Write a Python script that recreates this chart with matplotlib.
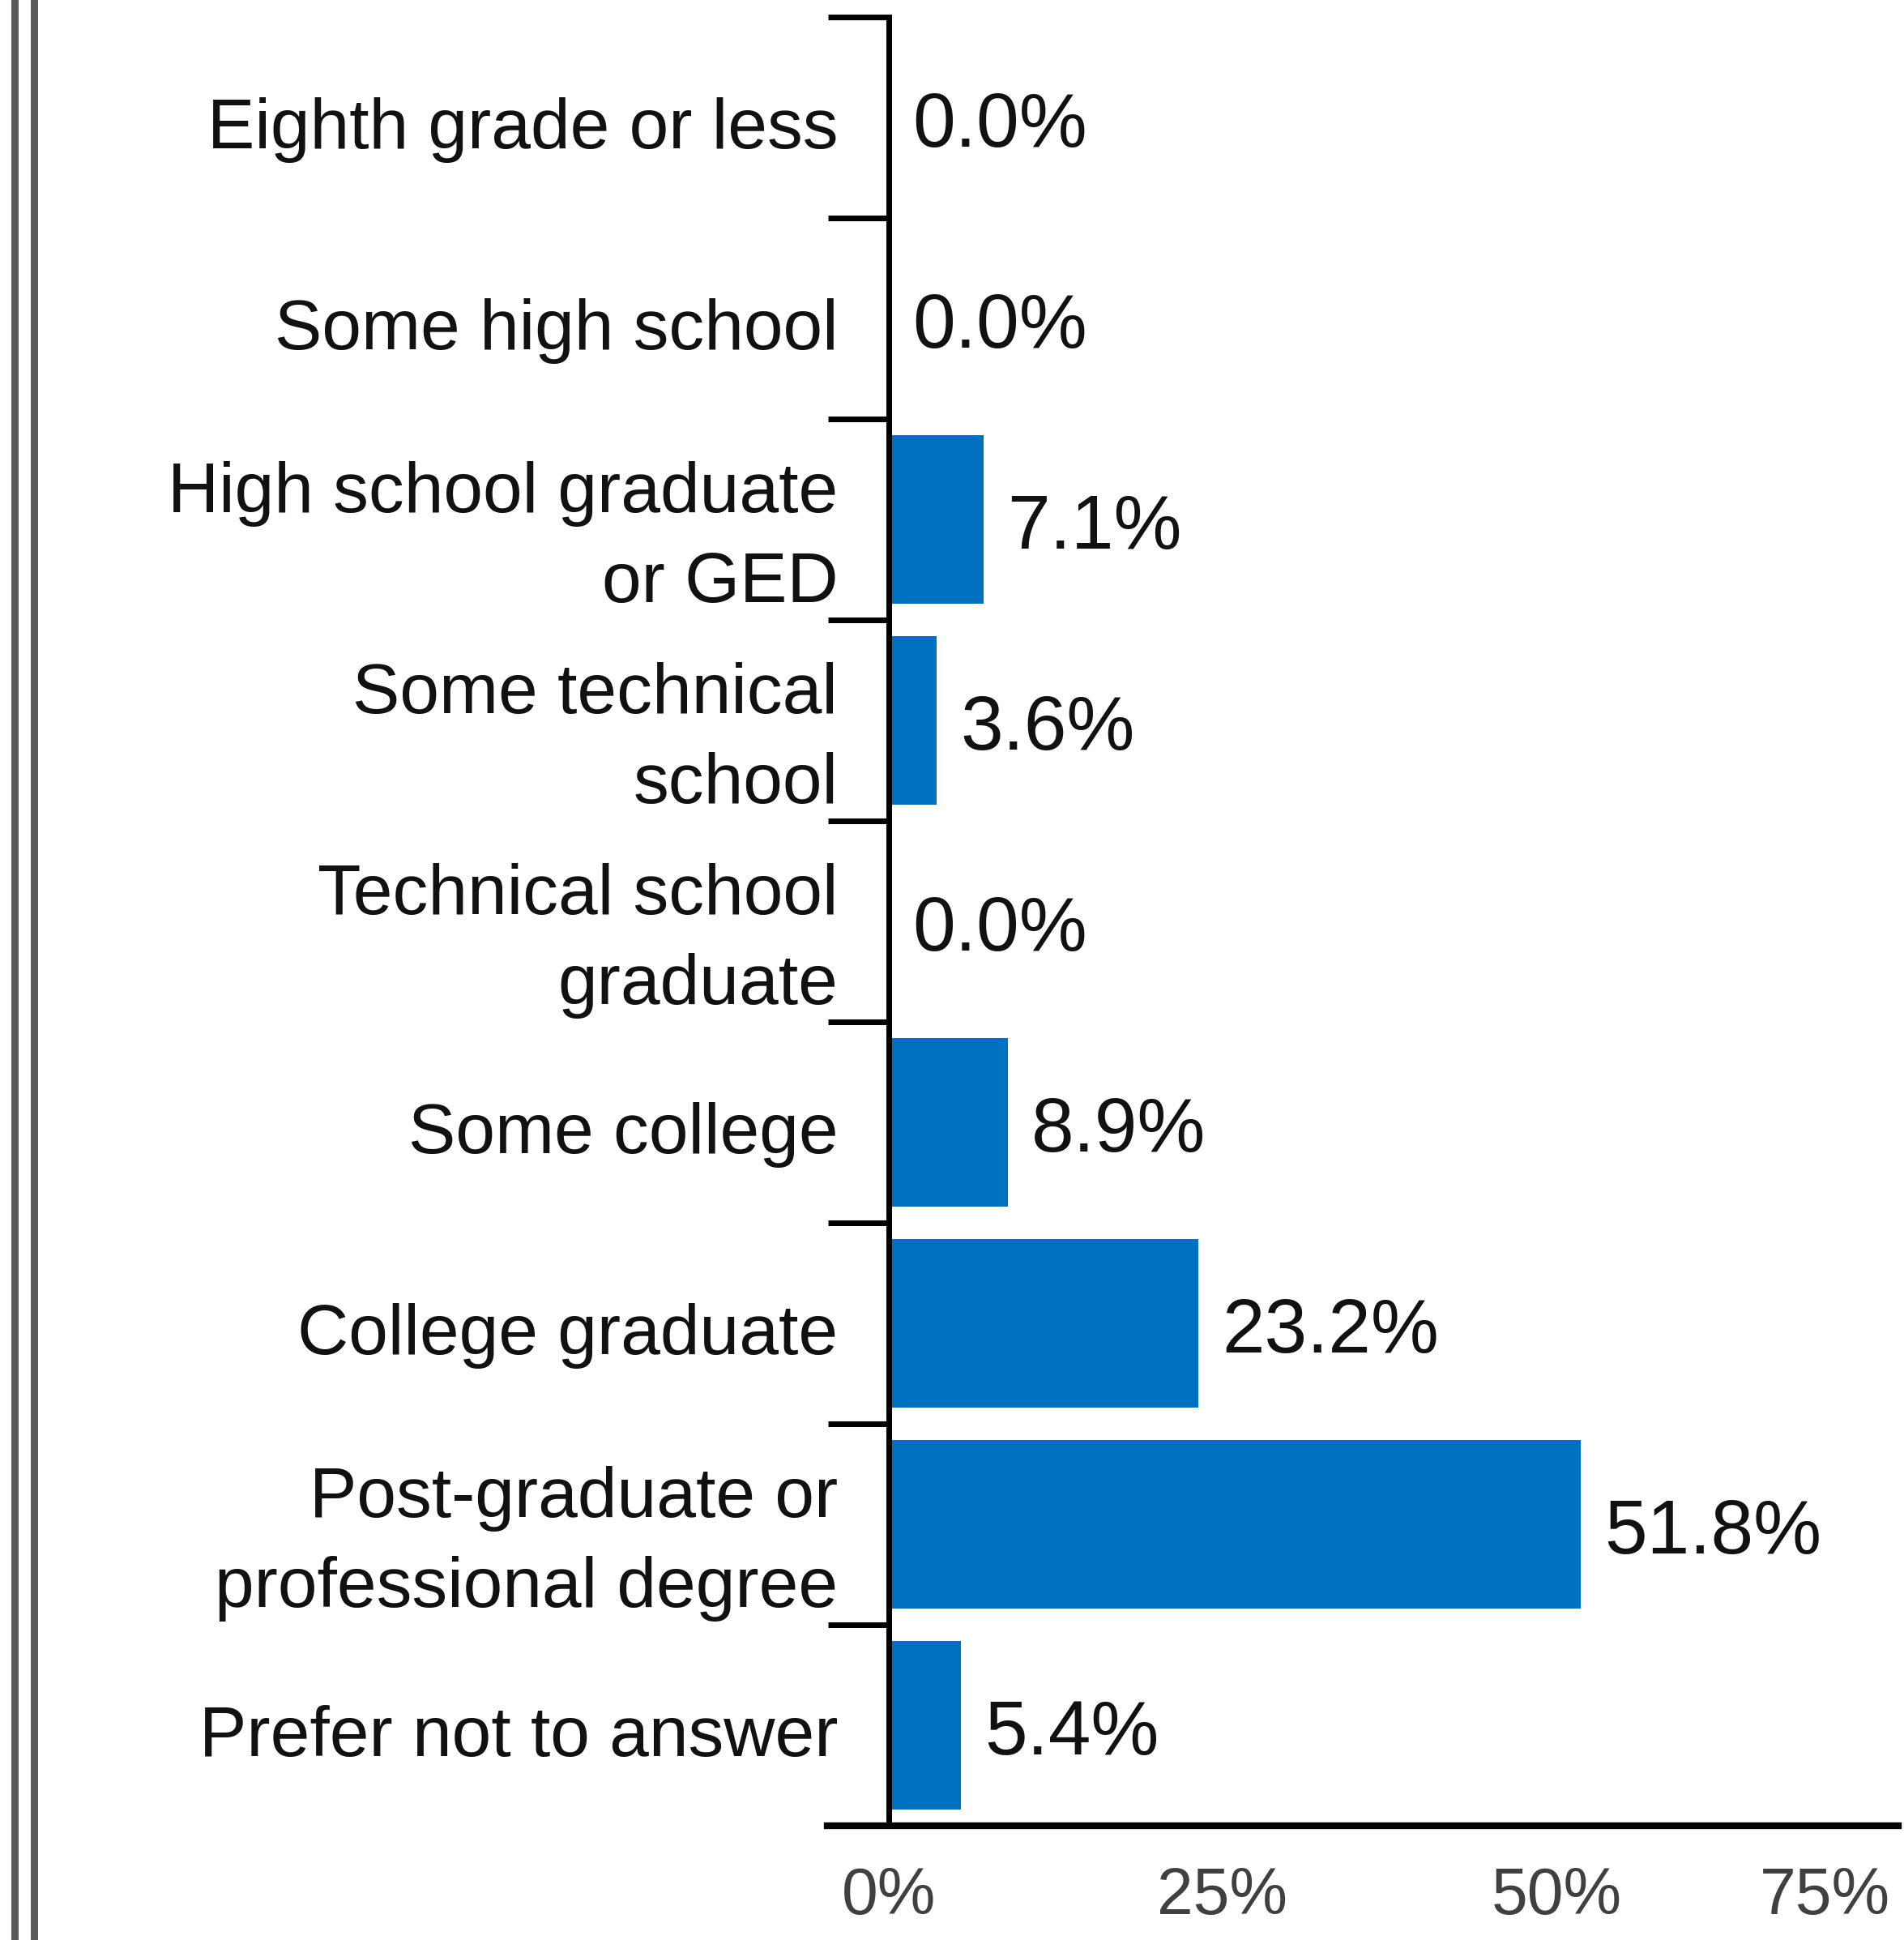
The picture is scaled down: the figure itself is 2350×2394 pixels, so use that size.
import numpy as np
import matplotlib
matplotlib.use("Agg")
import matplotlib.pyplot as plt
from matplotlib.lines import Line2D
from matplotlib.transforms import ScaledTranslation

plt.rcParams['font.family'] = ['Liberation Sans', 'DejaVu Sans']

# education level breakdown (percent of respondents)
categories = [
    "Eighth grade or less",
    "Some high school",
    "High school graduate\nor GED",
    "Some technical\nschool",
    "Technical school\ngraduate",
    "Some college",
    "College graduate",
    "Post-graduate or\nprofessional degree",
    "Prefer not to answer",
]
values = [0.0, 0.0, 7.1, 3.6, 0.0, 8.9, 23.2, 51.8, 5.4]
xticks = [0, 25, 50, 75]
xtick_labels = ["0%", "25%", "50%", "75%"]

W, H = 2350, 2394
fig = plt.figure(figsize=(W / 100, H / 100), dpi=100)

# axes box: x from -4.6 to 75.6 so the bottom line runs a bit left of zero
left, right = 1021, 2343
top, bottom = 21, 2253
ax = fig.add_axes([left / W, 1 - bottom / H, (right - left) / W, (bottom - top) / H])

y = np.arange(len(categories))
bars = ax.barh(y, values, height=0.84, color="#0070C0", zorder=2)
ax.set_xlim(-4.6, 75.6)
ax.set_ylim(len(categories) - 0.5, -0.5)

# value labels just past the end of each bar
for yi, v in zip(y, values):
    ax.annotate(f"{v:.1f}%", xy=(v, yi), xytext=(21, -8), textcoords="offset points",
                ha="left", va="center", fontsize=68, color="#111111")

# y axis sits on zero, with ticks between categories
for s in ["top", "right"]:
    ax.spines[s].set_visible(False)
ax.spines["left"].set_position(("data", 0))
ax.spines["left"].set_linewidth(5)
ax.spines["bottom"].set_linewidth(6)

ax.set_yticks(y)
ax.set_yticklabels(categories, fontsize=63, color="#111111", linespacing=1.48)
ax.tick_params(axis="y", which="major", length=0, pad=45)
ax.set_yticks(np.arange(len(categories) + 1) - 0.5, minor=True)
ax.tick_params(axis="y", which="minor", length=54, width=5, color="black")
shift = ScaledTranslation(0, -5 / 72, fig.dpi_scale_trans)
for lbl in ax.get_yticklabels():
    if "\n" not in lbl.get_text():
        lbl.set_transform(lbl.get_transform() + shift)

ax.set_xticks(xticks)
ax.set_xticklabels(xtick_labels, fontsize=58, color="#404040")
ax.tick_params(axis="x", length=0, pad=36)
ax.get_xticklabels()[-1].set_horizontalalignment("right")

# double rule on the left edge
for xp in (17.5, 41.5):
    fig.add_artist(Line2D([xp / W, xp / W], [0, 1], color="#5a5a5a", linewidth=6.5))

fig.savefig("out.png", dpi=100)
